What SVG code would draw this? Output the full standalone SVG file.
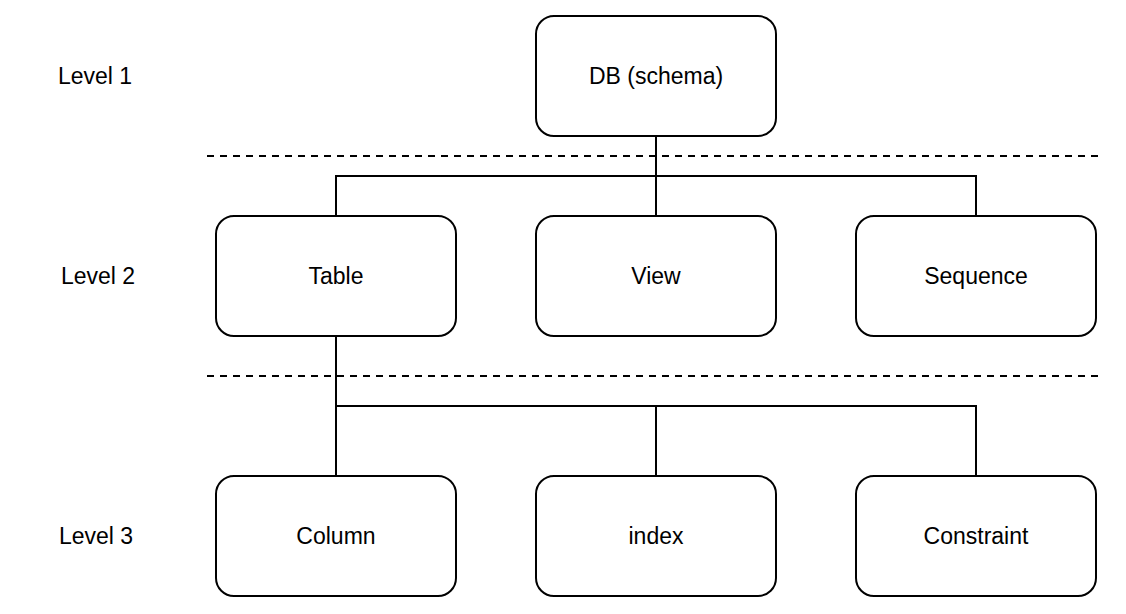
<svg xmlns="http://www.w3.org/2000/svg" width="1126" height="614" viewBox="0 0 1126 614">
<style>
.node rect{fill:#fff;stroke:#000;stroke-width:2}
text{font-family:"Liberation Sans",Arial,sans-serif;font-size:23px;fill:#000;text-anchor:middle}
.conn path{fill:none;stroke:#000;stroke-width:2}
.dash{fill:none;stroke:#000;stroke-width:2;stroke-dasharray:7 6}
</style>
<rect width="1126" height="614" fill="#fff"/>
<line class="dash" x1="207" y1="156" x2="1100" y2="156"/>
<line class="dash" x1="207" y1="376" x2="1100" y2="376"/>
<text x="95" y="84">Level 1</text>
<text x="98" y="284">Level 2</text>
<text x="96" y="544">Level 3</text>
<g class="conn">
<path d="M656 136V216"/>
<path d="M656 176H336V216"/>
<path d="M656 176H976V216"/>
<path d="M336 336V476"/>
<path d="M336 406H976V476"/>
<path d="M656 406V476"/>
</g>
<g id="db" class="node"><rect x="536" y="16" width="240" height="120" rx="18"/><text x="656" y="84">DB (schema)</text></g>
<g id="table" class="node"><rect x="216" y="216" width="240" height="120" rx="18"/><text x="336" y="284">Table</text></g>
<g id="view" class="node"><rect x="536" y="216" width="240" height="120" rx="18"/><text x="656" y="284">View</text></g>
<g id="sequence" class="node"><rect x="856" y="216" width="240" height="120" rx="18"/><text x="976" y="284">Sequence</text></g>
<g id="column" class="node"><rect x="216" y="476" width="240" height="120" rx="18"/><text x="336" y="544">Column</text></g>
<g id="index" class="node"><rect x="536" y="476" width="240" height="120" rx="18"/><text x="656" y="544">index</text></g>
<g id="constraint" class="node"><rect x="856" y="476" width="240" height="120" rx="18"/><text x="976" y="544">Constraint</text></g>
</svg>
